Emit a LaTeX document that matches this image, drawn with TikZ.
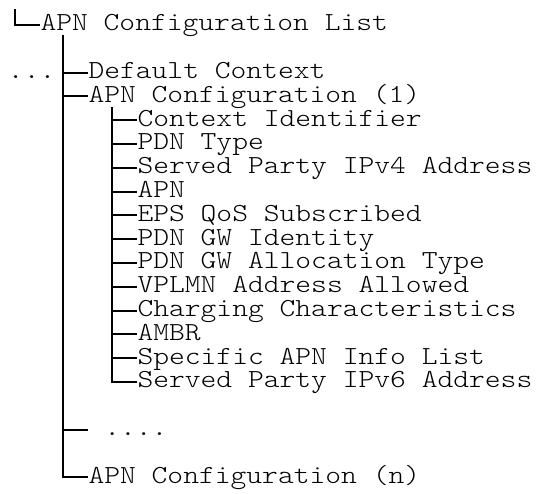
\documentclass[tikz,border=0pt]{standalone}
\usepackage{fontspec}
\newfontfamily\listfont[FakeStretch = 1.157]{lmmonolt10-regular.otf}
\begin{document}
\begin{tikzpicture}[x = 1pt, y = -1pt, line width = 2pt,
        entry/.style = {anchor = base west, inner sep = 0pt, outer xsep = 1pt,
            text height = 12pt, text depth = 0pt,
            font = \listfont\fontsize{26}{30}\selectfont}]
        \useasboundingbox (0, 0) rectangle (536, 494);
        \node [entry] (list) at (39.5, 31) {APN Configuration List};
        \node [entry] (more) at (7, 78.6) {...};
        \node [entry] (dflt) at (87.5, 78.6) {Default Context};
        \node [entry] (apn1) at (87.5, 102.4) {APN Configuration (1)};
        \node [entry] (ctxid) at (136.5, 126.2) {Context Identifier};
        \node [entry] (pdntype) at (136.5, 150) {PDN Type};
        \node [entry] (ipv4) at (136.5, 173.8) {Served Party IPv4 Address};
        \node [entry] (apn) at (136.5, 197.6) {APN};
        \node [entry] (qos) at (136.5, 221.4) {EPS QoS Subscribed};
        \node [entry] (gwid) at (136.5, 245.2) {PDN GW Identity};
        \node [entry] (gwalloc) at (136.5, 269) {PDN GW Allocation Type};
        \node [entry] (vplmn) at (136.5, 292.8) {VPLMN Address Allowed};
        \node [entry] (charging) at (136.5, 316.6) {Charging Characteristics};
        \node [entry] (ambr) at (136.5, 340.4) {AMBR};
        \node [entry] (apninfo) at (136.5, 364.2) {Specific APN Info List};
        \node [entry] (ipv6) at (136.5, 388) {Served Party IPv6 Address};
        \node [entry] (gap) at (87.5, 435.6) {\ ....};
        \node [entry] (apnn) at (87.5, 483.2) {APN Configuration (n)};
        \coordinate (corner) at (15, 9);
        \coordinate (trunk) at (63, 35);
        \coordinate (branch) at (112, 107);
        \draw (corner) |- (list.west);
        \draw (trunk) |- (apnn.west);
        \draw (trunk |- dflt.west) -- (dflt.west);
        \draw (trunk |- apn1.west) -- (apn1.west);
        \draw (trunk |- gap.west) -- (gap.west);
        \draw (branch) |- (ipv6.west);
        \draw (branch |- ctxid.west) -- (ctxid.west);
        \draw (branch |- pdntype.west) -- (pdntype.west);
        \draw (branch |- ipv4.west) -- (ipv4.west);
        \draw (branch |- apn.west) -- (apn.west);
        \draw (branch |- qos.west) -- (qos.west);
        \draw (branch |- gwid.west) -- (gwid.west);
        \draw (branch |- gwalloc.west) -- (gwalloc.west);
        \draw (branch |- vplmn.west) -- (vplmn.west);
        \draw (branch |- charging.west) -- (charging.west);
        \draw (branch |- ambr.west) -- (ambr.west);
        \draw (branch |- apninfo.west) -- (apninfo.west);
    \end{tikzpicture}
\end{document}
